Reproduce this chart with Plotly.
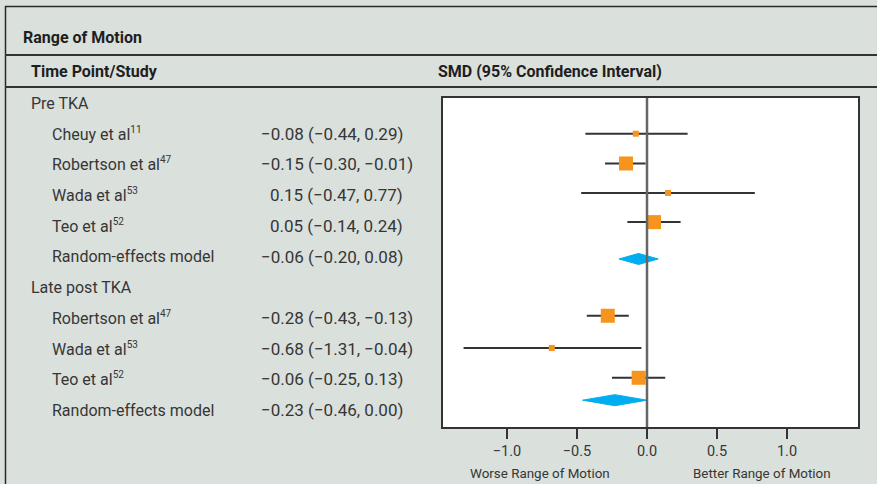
import plotly.graph_objects as go

# ---------------- data ----------------
groups = ["Pre TKA", "Late post TKA"]
group_rows = [0, 6]

study_names = ["Cheuy et al", "Robertson et al", "Wada et al", "Teo et al", "Random-effects model",
               "Robertson et al", "Wada et al", "Teo et al", "Random-effects model"]
study_refs = ["11", "47", "53", "52", "", "47", "53", "52", ""]
text_rows = [1, 2, 3, 4, 5, 7, 8, 9, 10]
mark_rows = [1, 1.97, 2.93, 3.88, 5.08, 6.93, 7.98, 8.95, 9.68]
is_pooled = [False, False, False, False, True, False, False, False, True]

smd = [-0.08, -0.15, 0.15, 0.05, -0.06, -0.28, -0.68, -0.06, -0.23]
ci_low = [-0.44, -0.30, -0.47, -0.14, -0.20, -0.43, -1.31, -0.25, -0.46]
ci_high = [0.29, -0.01, 0.77, 0.24, 0.08, -0.13, -0.04, 0.13, 0.00]
value_text = ["−0.08 (−0.44, 0.29)", "−0.15 (−0.30, −0.01)", "0.15 (−0.47, 0.77)",
              "0.05 (−0.14, 0.24)", "−0.06 (−0.20, 0.08)", "−0.28 (−0.43, −0.13)",
              "−0.68 (−1.31, −0.04)", "−0.06 (−0.25, 0.13)", "−0.23 (−0.46, 0.00)"]
weight_size = [6, 14, 6, 14, None, 14, 6, 14, None]

tick_vals = [-1.0, -0.5, 0.0, 0.5, 1.0]
tick_text = ["−1.0", "−0.5", "0.0", "0.5", "1.0"]

# ---------------- style ----------------
W, H = 877, 484
BG = "#dae0dc"
FONT = "Roboto, Liberation Sans, sans-serif"
ROW_FS = 16
VAL_FS = 17
TXT = "#363636"
ORANGE = "#f7941d"
BLUE = "#00aeef"
ROW_PX0, ROW_PX = 103, 30.7
PLOT_TOP, PLOT_BOT, PLOT_L, PLOT_R = 98, 427, 443, 858


def px_x(p):
    return p / W


def px_y(p):
    return 1 - p / H


y_top = (PLOT_TOP - ROW_PX0) / ROW_PX
y_bot = (PLOT_BOT - ROW_PX0) / ROW_PX

fig = go.Figure()

# CI lines for studies
lx, ly = [], []
for lo, hi, r, p in zip(ci_low, ci_high, mark_rows, is_pooled):
    if not p:
        lx += [lo, hi, None]
        ly += [r, r, None]
fig.add_trace(go.Scatter(x=lx, y=ly, mode="lines", line=dict(color="#333333", width=2),
                         hoverinfo="skip", showlegend=False))

# squares
sx = [m for m, p in zip(smd, is_pooled) if not p]
sy = [r for r, p in zip(mark_rows, is_pooled) if not p]
ss = [s for s, p in zip(weight_size, is_pooled) if not p]
fig.add_trace(go.Scatter(x=sx, y=sy, mode="markers",
                         marker=dict(symbol="square", size=ss, color=ORANGE, opacity=1,
                                     line=dict(width=0)),
                         showlegend=False))

# diamonds
half_h = 0.18
for m, lo, hi, r, p in zip(smd, ci_low, ci_high, mark_rows, is_pooled):
    if p:
        fig.add_trace(go.Scatter(x=[lo, m, hi, m, lo], y=[r, r - half_h, r, r + half_h, r],
                                 mode="lines", fill="toself", fillcolor=BLUE,
                                 line=dict(color=BLUE, width=1), showlegend=False,
                                 hoverinfo="skip"))

shapes = []
# zero line
shapes.append(dict(type="line", xref="x", yref="y domain", x0=0, x1=0, y0=0, y1=1,
                   line=dict(color="#666666", width=2.5), layer="above"))
# outer border & header rules
shapes.append(dict(type="line", xref="paper", yref="paper", x0=px_x(5), x1=1,
                   y0=px_y(6.5), y1=px_y(6.5), line=dict(color="#2a2a2a", width=1.5)))
shapes.append(dict(type="line", xref="paper", yref="paper", x0=px_x(5.5), x1=px_x(5.5),
                   y0=px_y(6), y1=0, line=dict(color="#2a2a2a", width=1.5)))
for yy in (55, 87):
    shapes.append(dict(type="line", xref="paper", yref="paper", x0=px_x(5), x1=1,
                       y0=px_y(yy), y1=px_y(yy), line=dict(color="#333333", width=2)))

ann = []
hdr_font = dict(family=FONT, size=16, color="#1e1e1e")
ann.append(dict(text="<b>Range of Motion</b>", xref="paper", yref="paper", x=px_x(21), y=px_y(37),
                xanchor="left", yanchor="middle", showarrow=False, font=hdr_font))
ann.append(dict(text="<b>Time Point/Study</b>", xref="paper", yref="paper", x=px_x(29), y=px_y(72),
                xanchor="left", yanchor="middle", showarrow=False, font=hdr_font))
ann.append(dict(text="<b>SMD (95% Confidence Interval)</b>", xref="paper", yref="paper",
                x=px_x(436), y=px_y(72), xanchor="left", yanchor="middle", showarrow=False,
                font=hdr_font))
row_font = dict(family=FONT, size=ROW_FS, color=TXT)
val_font = dict(family=FONT, size=VAL_FS, color=TXT)
for g, r in zip(groups, group_rows):
    ann.append(dict(text=g, xref="paper", yref="y", x=px_x(29), y=r, xanchor="left",
                    yanchor="middle", showarrow=False, font=row_font))
for name, ref, val, r in zip(study_names, study_refs, value_text, text_rows):
    lab = name + (f'<sup><span style="font-size:10px">{ref}</span></sup>' if ref else "")
    ann.append(dict(text=lab, xref="paper", yref="y", x=px_x(50), y=r, xanchor="left",
                    yanchor="middle", showarrow=False, font=row_font))
    vx = 259 if val.startswith("−") else 268
    ann.append(dict(text=val, xref="paper", yref="y", x=px_x(vx), y=r, xanchor="left",
                    yanchor="middle", showarrow=False, font=val_font))
ax_font = dict(family=FONT, size=13.4, color=TXT)
ann.append(dict(text="Worse Range of Motion", xref="x", yref="paper", x=-0.765, y=px_y(473),
                xanchor="center", yanchor="middle", showarrow=False, font=ax_font))
ann.append(dict(text="Better Range of Motion", xref="x", yref="paper", x=0.82, y=px_y(473),
                xanchor="center", yanchor="middle", showarrow=False, font=ax_font))

fig.update_layout(
    width=W, height=H, margin=dict(l=0, r=0, t=0, b=0),
    paper_bgcolor=BG, plot_bgcolor="white",
    shapes=shapes, annotations=ann, showlegend=False,
    xaxis=dict(domain=[px_x(PLOT_L), px_x(PLOT_R)], range=[-1.457, 1.507],
               tickvals=tick_vals, ticktext=tick_text, ticks="outside", ticklen=10,
               tickwidth=1.5, tickcolor="#333333", showgrid=False, zeroline=False,
               showline=True, mirror=True, linecolor="#333333", linewidth=2,
               tickfont=dict(family=FONT, size=14.5, color=TXT), fixedrange=True),
    yaxis=dict(domain=[px_y(PLOT_BOT), px_y(PLOT_TOP)], range=[y_bot, y_top],
               showticklabels=False, ticks="", showgrid=False, zeroline=False,
               showline=True, mirror=True, linecolor="#333333", linewidth=2, fixedrange=True),
)

fig.write_html("out.html")
